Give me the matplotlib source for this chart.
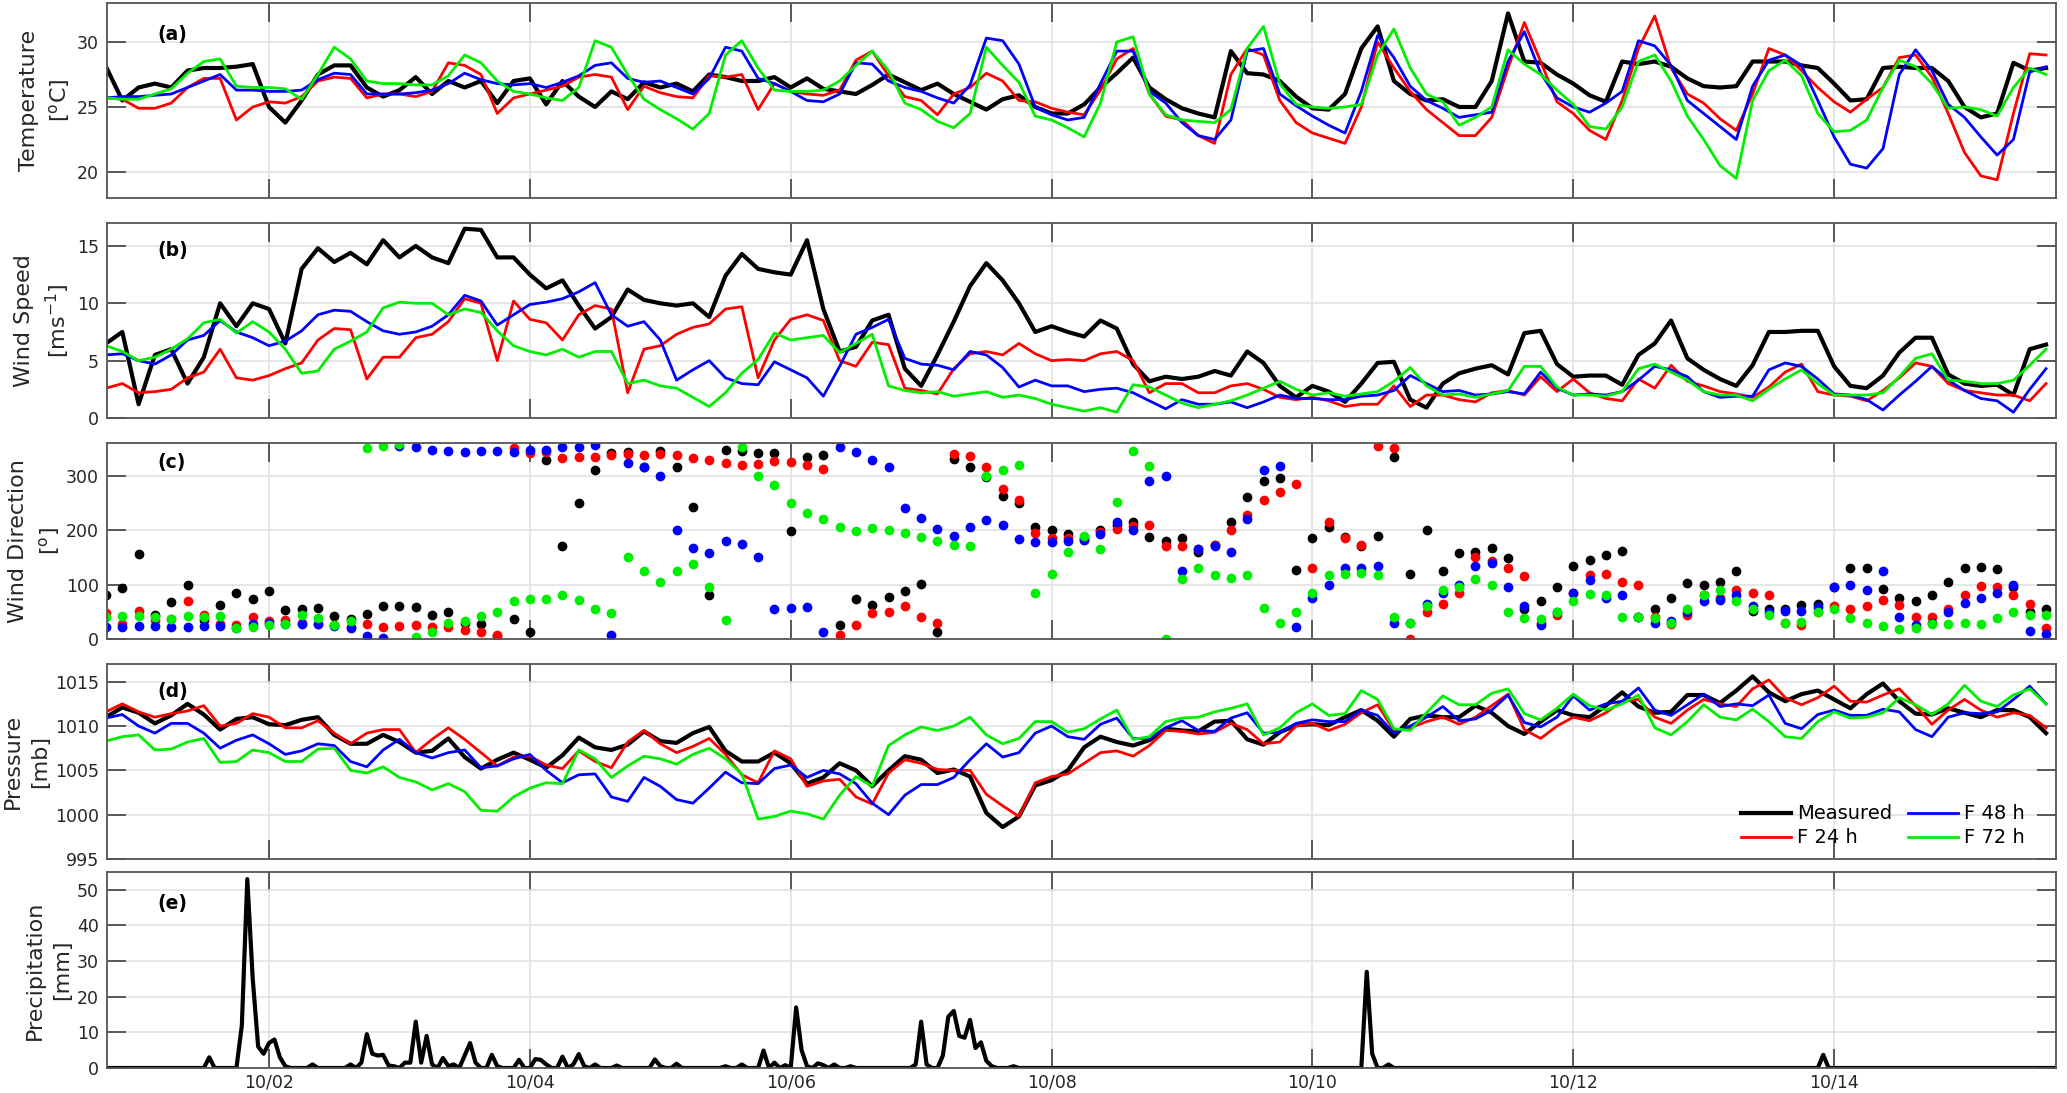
import numpy as np
import matplotlib
matplotlib.use('Agg')
import matplotlib.pyplot as plt
import matplotlib.dates as mdates

plt.rcParams['font.family'] = ['DejaVu Sans']
plt.rcParams['mathtext.default'] = 'regular'

# 3-hourly samples starting 09/30 18:00, hourly for precipitation
start = np.datetime64('2017-09-30T18:00')

temp_meas = [28.1, 25.5, 26.5, 26.8, 26.5, 27.8, 28.0, 28.0, 28.1, 28.3, 25.0, 23.8, 25.5, 27.5, 28.2, 28.2,
             26.5, 25.8, 26.3, 27.3, 26.0, 27.0, 26.5, 27.0, 25.3, 27.0, 27.2, 25.2, 27.0, 25.8, 25.0, 26.2,
             25.6, 26.9, 26.5, 26.8, 26.2, 27.5, 27.3, 27.0, 27.0, 27.3, 26.5, 27.2, 26.4, 26.2, 26.0, 26.7,
             27.5, 26.9, 26.3, 26.8, 26.0, 25.4, 24.8, 25.6, 25.9, 25.0,
             24.5, 24.5, 25.2, 26.5, 27.6, 28.8, 26.5, 25.6, 24.9, 24.5, 24.2, 29.3, 27.6, 27.5, 27.0, 25.8,
             24.9, 24.8, 26.0, 29.5, 31.2, 27.0, 26.0, 25.5, 25.6, 25.0, 25.0, 27.0, 32.2, 28.5, 28.4, 27.5,
             26.8, 25.9, 25.4, 28.5, 28.3, 28.5, 28.1, 27.2, 26.6, 26.5, 26.6, 28.5, 28.5, 28.5, 28.2, 28.0,
             26.8, 25.5, 25.6, 28.0, 28.1, 28.0, 28.0, 27.0, 25.0, 24.2, 24.5, 28.4, 27.8, 28.0]
temp_f24 = [25.7, 25.6, 24.9, 24.9, 25.3, 26.5, 27.2, 27.2, 24.0, 25.0, 25.4, 25.3, 25.8, 27.0, 27.3, 27.2,
            25.7, 26.0, 26.0, 25.8, 26.2, 28.4, 28.2, 27.5, 24.5, 25.7, 26.0, 26.3, 26.6, 27.3, 27.5, 27.3,
            24.8, 26.6, 26.1, 25.8, 25.7, 27.4, 27.3, 27.5, 24.8, 26.8, 26.2, 26.0, 25.9, 26.3, 28.6, 29.3,
            27.4, 25.8, 25.5, 24.4, 26.0, 26.5, 27.6, 27.0, 25.5, 25.4,
            24.9, 24.6, 24.4, 26.3, 28.7, 29.5, 26.0, 24.3, 24.0, 22.8, 22.2, 27.5, 29.5, 29.0, 25.5, 23.8,
            23.0, 22.6, 22.2, 25.0, 30.0, 28.0, 26.2, 24.8, 23.8, 22.8, 22.8, 24.2, 28.0, 31.5, 28.5, 25.4,
            24.5, 23.2, 22.5, 25.5, 29.5, 32.0, 28.0, 26.0, 25.3, 24.1, 23.2, 26.0, 29.5, 29.0, 27.8, 26.5,
            25.4, 24.6, 25.6, 26.5, 28.8, 29.0, 27.3, 24.5, 21.5, 19.7, 19.4, 24.5, 29.1, 29.0]
temp_f48 = [25.7, 25.8, 25.8, 25.9, 26.0, 26.5, 27.0, 27.5, 26.3, 26.3, 26.2, 26.2, 26.3, 27.1, 27.6, 27.5,
            26.0, 26.0, 26.0, 26.1, 26.3, 26.8, 27.6, 27.1, 26.8, 26.7, 26.8, 26.5, 26.9, 27.4, 28.2, 28.4,
            27.2, 26.9, 27.0, 26.5, 26.0, 27.2, 29.6, 29.3, 27.2, 26.8, 26.2, 25.5, 25.4, 26.0, 28.4, 28.3,
            27.0, 26.5, 26.2, 25.7, 25.3, 26.7, 30.3, 30.1, 28.3, 25.0,
            24.4, 24.0, 24.2, 26.8, 29.3, 29.3, 26.2, 25.3, 23.8, 22.8, 22.5, 24.0, 29.3, 29.5, 26.0, 25.1,
            24.3, 23.6, 23.0, 26.2, 30.5, 28.8, 26.6, 25.5, 24.9, 24.2, 24.4, 24.6, 28.5, 30.8, 27.6, 25.7,
            25.0, 24.6, 25.3, 26.2, 30.1, 29.7, 28.2, 25.5, 24.5, 23.5, 22.5, 26.6, 28.6, 29.0, 28.2, 25.5,
            22.7, 20.6, 20.3, 21.8, 27.5, 29.4, 27.8, 25.2, 24.2, 22.7, 21.3, 22.5, 27.7, 28.1]
temp_f72 = [25.7, 25.6, 25.6, 26.0, 26.4, 27.6, 28.5, 28.7, 26.6, 26.5, 26.5, 26.4, 25.6, 27.5, 29.6, 28.7,
            27.0, 26.8, 26.8, 26.7, 26.7, 27.4, 29.0, 28.4, 27.0, 26.2, 26.0, 25.7, 25.5, 26.5, 30.1, 29.6,
            27.5, 25.6, 24.8, 24.1, 23.3, 24.5, 29.0, 30.1, 28.0, 26.3, 26.2, 26.2, 26.3, 27.0, 28.2, 29.3,
            27.8, 25.3, 24.8, 23.9, 23.4, 24.5, 29.6, 28.2, 26.9, 24.3,
            24.0, 23.4, 22.7, 25.3, 30.0, 30.4, 26.0, 24.4, 24.0, 23.9, 23.8, 24.8, 29.5, 31.2, 26.8, 25.2,
            25.0, 24.9, 25.0, 25.2, 29.0, 31.0, 28.0, 26.0, 25.4, 23.6, 24.2, 25.0, 29.4, 28.3, 27.5, 26.3,
            25.2, 23.5, 23.3, 25.0, 28.5, 29.0, 27.0, 24.3, 22.5, 20.5, 19.5, 25.5, 27.8, 28.6, 27.4, 24.5,
            23.1, 23.2, 24.0, 26.5, 28.6, 28.1, 26.8, 24.9, 25.0, 24.8, 24.3, 26.5, 28.0, 27.5]

wspd_meas = [6.5, 7.5, 1.2, 5.5, 6.0, 3.0, 5.3, 10.0, 8.0, 10.0, 9.5, 6.5, 13.0, 14.8, 13.6, 14.4,
             13.4, 15.5, 14.0, 15.0, 14.0, 13.5, 16.5, 16.4, 14.0, 14.0, 12.5, 11.3, 12.0, 9.8, 7.8, 8.8,
             11.2, 10.3, 10.0, 9.8, 10.0, 8.8, 12.4, 14.3, 13.0, 12.7, 12.5, 15.5, 9.5, 5.8, 6.2, 8.5,
             9.0, 4.3, 2.8, 5.5, 8.4, 11.5, 13.5, 12.0, 10.0, 7.5,
             8.0, 7.5, 7.1, 8.5, 7.8, 4.7, 3.2, 3.6, 3.4, 3.6, 4.1, 3.7, 5.8, 4.8, 2.8, 1.8,
             2.8, 2.3, 1.4, 3.0, 4.8, 4.9, 1.6, 0.9, 3.0, 3.9, 4.3, 4.6, 3.8, 7.4, 7.6, 4.7,
             3.6, 3.7, 3.7, 2.9, 5.5, 6.5, 8.5, 5.2, 4.2, 3.4, 2.8, 4.6, 7.5, 7.5, 7.6, 7.6,
             4.5, 2.8, 2.6, 3.7, 5.7, 7.0, 7.0, 3.8, 3.0, 2.8, 2.9, 2.0, 6.0, 6.4]
wspd_f24 = [2.6, 3.0, 2.2, 2.3, 2.5, 3.5, 4.0, 6.0, 3.5, 3.3, 3.7, 4.3, 4.8, 6.8, 7.8, 7.7,
            3.4, 5.3, 5.3, 7.0, 7.3, 8.4, 10.4, 10.0, 5.0, 10.2, 8.6, 8.3, 6.8, 9.0, 9.8, 9.5,
            2.2, 6.0, 6.3, 7.3, 7.9, 8.2, 9.5, 9.7, 3.5, 6.8, 8.6, 9.0, 8.5, 5.0, 4.5, 6.6,
            6.4, 2.6, 2.4, 2.1, 4.3, 5.6, 5.8, 5.5, 6.5, 5.6,
            5.0, 5.1, 5.0, 5.6, 5.8, 5.0, 2.2, 3.0, 3.0, 2.2, 2.2, 2.8, 3.0, 2.5, 1.8, 1.6,
            1.8, 1.5, 1.0, 1.2, 1.2, 2.8, 1.0, 2.0, 2.0, 1.6, 1.4, 2.2, 2.4, 2.0, 3.6, 2.3,
            3.4, 2.2, 1.7, 1.5, 3.4, 2.6, 4.6, 3.2, 2.8, 2.3, 2.1, 1.8, 2.7, 4.0, 4.7, 2.3,
            2.0, 1.9, 1.5, 2.4, 3.5, 4.8, 4.5, 3.0, 2.4, 2.2, 2.0, 2.0, 1.5, 3.0]
wspd_f48 = [5.5, 5.6, 5.0, 4.7, 5.5, 6.8, 7.2, 8.5, 7.5, 7.0, 6.3, 6.7, 7.6, 9.0, 9.4, 9.3,
            8.4, 7.6, 7.3, 7.5, 8.0, 9.0, 10.7, 10.2, 8.1, 9.0, 9.9, 10.1, 10.4, 11.0, 11.8, 9.0,
            8.0, 8.4, 6.8, 3.3, 4.2, 5.0, 3.5, 3.0, 2.9, 4.9, 4.2, 3.5, 1.9, 4.5, 7.3, 7.9,
            8.6, 5.2, 4.7, 4.6, 4.2, 5.8, 5.5, 4.4, 2.7, 3.3,
            2.8, 2.8, 2.3, 2.5, 2.6, 2.2, 1.5, 0.8, 1.6, 1.2, 1.2, 1.4, 0.9, 1.4, 2.0, 1.7,
            1.7, 1.6, 1.6, 1.9, 2.0, 2.4, 3.7, 3.0, 2.3, 2.4, 2.0, 2.1, 2.3, 2.1, 4.0, 2.6,
            2.0, 2.1, 2.0, 2.3, 3.3, 4.5, 4.2, 3.6, 2.3, 1.8, 1.9, 1.9, 4.2, 4.8, 4.5, 3.4,
            2.1, 2.0, 1.6, 0.7, 2.0, 3.2, 4.5, 3.3, 2.4, 1.7, 1.5, 0.5, 2.5, 4.3]
wspd_f72 = [6.3, 5.8, 5.0, 5.3, 6.0, 6.9, 8.3, 8.6, 7.4, 8.4, 7.5, 6.0, 3.9, 4.1, 6.0, 6.7,
            7.5, 9.6, 10.1, 10.0, 10.0, 9.0, 9.5, 9.2, 7.6, 6.3, 5.8, 5.5, 6.0, 5.3, 5.8, 5.8,
            3.0, 3.3, 2.8, 2.6, 1.8, 1.0, 2.2, 3.9, 5.1, 7.4, 6.8, 7.0, 7.2, 5.7, 6.5, 7.3,
            2.8, 2.4, 2.2, 2.3, 1.9, 2.1, 2.3, 1.8, 2.0, 1.7,
            1.2, 0.9, 0.6, 0.9, 0.5, 2.9, 2.7, 2.0, 1.3, 0.9, 1.2, 1.5, 2.0, 2.6, 3.2, 2.5,
            2.0, 2.2, 1.9, 2.1, 2.3, 3.2, 4.4, 2.8, 2.0, 2.1, 1.8, 2.1, 2.4, 4.5, 4.5, 2.7,
            2.0, 2.0, 1.9, 2.3, 4.3, 4.7, 4.0, 3.3, 2.3, 2.0, 2.0, 1.5, 2.5, 3.4, 4.2, 3.0,
            2.0, 2.0, 2.0, 2.2, 3.6, 5.2, 5.6, 3.3, 3.2, 3.0, 3.0, 3.3, 4.6, 6.0]

wdir_meas = [80, 93, 157, 45, 68, 100, 35, 62, 85, 73, 88, 53, 55, 57, 42, 36,
             46, 60, 60, 58, 45, 49, 29, 28, 5, 37, 12, 328, 170, 250, 310, 342,
             343, 316, 346, 316, 243, 80, 348, 345, 342, 342, 198, 335, 338, 25, 73, 62,
             77, 88, 101, 12, 330, 315, 297, 262, 250, 205,
             200, 193, 186, 200, 210, 215, 187, 180, 185, 160, 172, 215, 260, 290, 295, 126,
             185, 205, 188, 170, 190, 335, 120, 200, 125, 158, 160, 168, 148, 55, 70, 95,
             135, 145, 155, 162, 40, 55, 75, 102, 100, 105, 125, 52, 55, 55, 62, 65,
             95, 130, 130, 92, 76, 69, 80, 105, 130, 133, 128, 95, 50, 55]
wdir_f24 = [48, 28, 52, 35, 36, 70, 45, 28, 25, 40, 33, 35, 30, 27, 25, 22,
            28, 22, 24, 25, 22, 22, 17, 12, 8, 350, 342, 343, 333, 334, 334, 338,
            340, 338, 340, 338, 333, 329, 324, 320, 322, 327, 325, 320, 313, 8, 25, 47,
            50, 60, 40, 30, 340, 337, 316, 275, 255, 195,
            185, 185, 181, 197, 202, 207, 210, 170, 170, 165, 172, 200, 228, 255, 270, 285,
            130, 215, 185, 172, 355, 350, 0, 50, 65, 85, 150, 143, 130, 115, 30, 45,
            85, 118, 120, 105, 100, 40, 28, 45, 80, 75, 90, 85, 80, 30, 25, 50,
            60, 56, 60, 72, 62, 40, 41, 55, 80, 97, 95, 80, 65, 20]
wdir_f48 = [22, 22, 23, 23, 22, 22, 23, 24, 20, 28, 30, 28, 28, 27, 23, 21,
            5, 2, 354, 352, 347, 345, 344, 345, 345, 343, 348, 348, 352, 352, 357, 8,
            323, 315, 300, 200, 168, 158, 180, 175, 150, 56, 57, 58, 12, 352, 343, 328,
            316, 240, 222, 202, 190, 205, 218, 210, 183, 178,
            178, 180, 182, 192, 215, 200, 290, 300, 125, 165, 170, 160, 220, 310, 318, 22,
            75, 100, 130, 130, 135, 30, 30, 65, 85, 100, 135, 140, 95, 60, 25, 50,
            85, 108, 75, 80, 40, 30, 33, 50, 70, 72, 80, 60, 50, 52, 52, 58,
            95, 100, 90, 125, 40, 25, 30, 50, 67, 75, 85, 100, 15, 10]
wdir_f72 = [40, 42, 42, 41, 36, 42, 40, 42, 21, 22, 25, 27, 44, 38, 26, 33,
            351, 355, 358, 3, 12, 30, 33, 42, 50, 70, 74, 74, 80, 72, 55, 48,
            150, 125, 105, 125, 137, 95, 35, 352, 300, 282, 250, 232, 220, 206, 198, 203,
            200, 195, 188, 180, 172, 170, 300, 310, 320, 85,
            120, 160, 190, 165, 251, 345, 318, 0, 110, 130, 117, 112, 118, 57, 30, 50,
            85, 118, 120, 122, 118, 40, 30, 60, 90, 95, 110, 100, 50, 38, 36, 50,
            70, 83, 80, 40, 40, 38, 30, 55, 80, 90, 70, 55, 45, 30, 32, 50,
            55, 38, 30, 23, 18, 20, 27, 28, 30, 28, 38, 50, 45, 45]

pres_meas = [1011.0, 1012.1, 1011.5, 1010.3, 1011.2, 1012.5, 1011.3, 1009.6, 1010.8, 1011.0, 1010.2, 1010.1,
             1010.7, 1011.0, 1009.0, 1008.0, 1008.0, 1009.0, 1008.2, 1007.0, 1007.2, 1008.6, 1006.5, 1005.2,
             1006.2, 1007.0, 1006.2, 1005.3, 1006.7, 1008.7, 1007.6, 1007.3, 1007.9, 1009.4, 1008.3, 1008.1,
             1009.2, 1009.9, 1007.2, 1006.0, 1006.0, 1007.0, 1005.8, 1003.5, 1004.2, 1005.8, 1005.0, 1003.2,
             1005.0, 1006.6, 1006.2, 1004.7, 1005.1, 1004.3, 1000.2, 998.6, 999.8, 1003.3,
             1003.9, 1005.0, 1007.6, 1008.8, 1008.2, 1007.8, 1008.4, 1009.7, 1009.5, 1009.4, 1010.5, 1010.6,
             1008.5, 1007.9, 1009.3, 1010.1, 1010.2, 1010.1, 1011.0, 1011.8, 1010.6, 1008.8, 1010.8, 1011.2,
             1011.0, 1011.0, 1012.3, 1011.5, 1010.0, 1009.1, 1010.5, 1011.8, 1011.2, 1011.0, 1012.3, 1013.8,
             1012.2, 1011.5, 1011.6, 1013.5, 1013.5, 1012.6, 1014.0, 1015.6, 1013.8, 1012.8, 1013.6, 1014.0,
             1013.0, 1012.0, 1013.6, 1014.8, 1012.8, 1011.4, 1011.3, 1012.0, 1011.5, 1011.0, 1011.8, 1011.8,
             1011.0, 1009.2]
pres_f24 = [1011.6, 1012.5, 1011.6, 1011.0, 1011.4, 1011.7, 1012.3, 1010.0, 1010.3, 1011.4, 1011.0, 1009.8,
            1009.8, 1010.6, 1009.2, 1008.0, 1009.2, 1009.6, 1009.6, 1007.0, 1008.5, 1009.8, 1008.5, 1007.0,
            1005.5, 1006.5, 1006.6, 1005.6, 1005.2, 1007.2, 1006.0, 1005.3, 1008.2, 1009.5, 1008.0, 1007.0,
            1007.7, 1008.6, 1006.8, 1004.5, 1003.6, 1007.2, 1006.3, 1003.2, 1003.8, 1004.0, 1002.0, 1001.2,
            1004.7, 1006.2, 1005.8, 1005.1, 1005.0, 1005.0, 1002.3, 1001.0, 999.8, 1003.6,
            1004.3, 1004.6, 1005.8, 1007.0, 1007.2, 1006.6, 1007.8, 1009.5, 1009.4, 1009.1, 1009.3, 1010.3,
            1009.6, 1008.0, 1008.2, 1010.0, 1010.3, 1009.5, 1010.2, 1011.5, 1012.4, 1009.5, 1009.8, 1010.5,
            1011.0, 1010.2, 1011.0, 1012.3, 1013.6, 1009.6, 1008.6, 1010.0, 1011.0, 1010.6, 1011.5, 1012.8,
            1013.0, 1011.0, 1010.3, 1011.8, 1013.0, 1012.5, 1012.2, 1014.2, 1015.2, 1013.2, 1012.4, 1013.2,
            1014.5, 1012.8, 1012.7, 1013.5, 1014.2, 1012.3, 1010.2, 1011.8, 1013.0, 1011.8, 1011.0, 1011.5,
            1011.2, 1009.8]
pres_f48 = [1010.9, 1011.3, 1010.0, 1009.2, 1010.3, 1010.3, 1009.2, 1007.5, 1008.4, 1009.0, 1008.0, 1006.8,
            1007.2, 1008.0, 1007.8, 1006.0, 1005.4, 1007.3, 1008.5, 1007.0, 1006.4, 1007.0, 1007.3, 1005.3,
            1005.5, 1006.3, 1006.8, 1005.0, 1003.6, 1004.5, 1004.6, 1002.0, 1001.5, 1004.2, 1003.2, 1001.7,
            1001.3, 1003.0, 1004.8, 1003.6, 1003.5, 1005.2, 1005.6, 1004.2, 1005.0, 1004.6, 1003.5, 1001.3,
            1000.0, 1002.2, 1003.4, 1003.4, 1004.2, 1006.2, 1008.0, 1006.5, 1007.0, 1009.2,
            1010.0, 1008.8, 1008.5, 1010.2, 1010.9, 1008.6, 1008.6, 1009.8, 1010.6, 1009.5, 1009.4, 1010.9,
            1011.5, 1009.2, 1009.3, 1010.3, 1010.7, 1010.5, 1010.5, 1011.8, 1011.2, 1009.2, 1010.0, 1011.0,
            1012.2, 1010.6, 1010.8, 1011.8, 1013.5, 1010.4, 1009.9, 1011.0, 1013.4, 1011.8, 1012.5, 1012.8,
            1014.3, 1011.8, 1011.2, 1012.4, 1013.6, 1012.2, 1012.5, 1012.3, 1013.5, 1010.3, 1009.7, 1011.3,
            1011.8, 1011.2, 1011.2, 1011.9, 1011.6, 1009.6, 1008.8, 1011.0, 1011.5, 1011.4, 1011.6, 1013.0,
            1014.5, 1012.5]
pres_f72 = [1008.3, 1008.8, 1009.0, 1007.3, 1007.4, 1008.2, 1008.6, 1005.9, 1006.0, 1007.3, 1007.0, 1006.0,
            1006.0, 1007.4, 1007.5, 1005.0, 1004.7, 1005.4, 1004.2, 1003.7, 1002.8, 1003.5, 1002.6, 1000.5,
            1000.4, 1002.0, 1003.0, 1003.6, 1003.5, 1007.3, 1006.3, 1004.2, 1005.5, 1006.6, 1006.3, 1005.7,
            1006.8, 1007.5, 1006.3, 1004.6, 999.5, 999.8, 1000.4, 1000.1, 999.5, 1002.2, 1004.3, 1003.2,
            1007.8, 1009.0, 1009.9, 1009.5, 1010.0, 1011.0, 1009.0, 1008.0, 1008.6, 1010.5,
            1010.5, 1009.3, 1009.7, 1010.8, 1011.8, 1008.5, 1008.8, 1010.5, 1010.9, 1011.0, 1011.6, 1012.0,
            1012.5, 1009.0, 1009.8, 1011.5, 1012.5, 1011.2, 1011.4, 1014.0, 1013.0, 1009.7, 1009.5, 1011.5,
            1013.4, 1012.4, 1012.4, 1013.7, 1014.2, 1011.4, 1010.7, 1012.0, 1013.6, 1012.3, 1011.8, 1012.5,
            1013.5, 1009.8, 1009.0, 1010.5, 1012.4, 1011.0, 1010.7, 1011.9, 1010.5, 1008.8, 1008.6, 1010.5,
            1011.6, 1010.9, 1011.0, 1011.5, 1013.2, 1012.4, 1011.3, 1012.5, 1014.6, 1012.8, 1012.2, 1013.5,
            1014.2, 1012.5]

# measured precipitation, hours after start -> mm (all other hours are 0)
rain_hour = [19, 25, 26, 27, 28, 29, 30, 31, 32, 33, 38, 45, 47, 48, 49, 50, 51, 52, 53, 55, 56, 57, 58,
             59, 60, 62, 63, 64, 66, 67, 68, 71, 72, 76, 79, 80, 81, 84, 86, 87, 88, 90, 94, 101, 102,
             105, 114, 117, 121, 123, 125, 127, 128, 129, 131, 132, 134, 137, 149, 150, 151, 154, 155,
             156, 157, 158, 159, 160, 161, 162, 163, 167, 232, 233, 236, 316]
rain_mm = [3.0, 12.0, 53.0, 25.0, 6.0, 4.0, 7.0, 8.0, 3.0, 0.5, 1.0, 1.0, 1.5, 9.5, 4.0, 3.5, 3.7, 0.7,
           0.5, 1.5, 1.5, 13.0, 1.5, 9.0, 1.0, 2.8, 0.5, 1.0, 3.5, 7.0, 1.5, 3.7, 0.5, 2.3, 2.5, 2.3,
           1.0, 3.2, 1.0, 3.9, 0.5, 1.0, 0.7, 2.4, 0.5, 1.2, 0.5, 1.0, 4.9, 1.5, 0.8, 17.0, 5.0, 0.5,
           1.3, 0.8, 1.0, 0.5, 1.0, 13.0, 1.0, 3.5, 14.4, 16.0, 9.0, 8.5, 13.5, 5.6, 7.2, 2.0, 0.5,
           0.5, 27.0, 4.0, 1.0, 3.7]
n_hours = 360

series_names = ['Measured', 'F 24 h', 'F 48 h', 'F 72 h']
colors = ['k', '#ff0000', '#0000ff', '#00ee00']


def times3(vals):
    return start + np.arange(len(vals)) * np.timedelta64(3, 'h')


rain = np.zeros(n_hours)
rain[rain_hour] = rain_mm
t_rain = start + np.arange(n_hours) * np.timedelta64(1, 'h')

fig = plt.figure(figsize=(20.67, 10.93), dpi=100)
W, H = 2067, 1093
boxes = [(3, 198), (223, 418), (443, 639), (664, 859), (872, 1068)]
axs = [fig.add_axes([107 / W, 1 - b / H, 1949 / W, (b - t) / H]) for t, b in boxes]

x0 = np.datetime64('2017-09-30T18:11')
x1 = np.datetime64('2017-10-15T16:50')

# (a) temperature
for vals, c, lw in zip([temp_meas, temp_f24, temp_f48, temp_f72], colors, [3.0, 2, 2, 2]):
    axs[0].plot(times3(vals), vals, color=c, lw=lw)
# (b) wind speed
for vals, c, lw in zip([wspd_meas, wspd_f24, wspd_f48, wspd_f72], colors, [3.0, 2, 2, 2]):
    axs[1].plot(times3(vals), vals, color=c, lw=lw)
# (c) wind direction
for vals, c in zip([wdir_meas, wdir_f24, wdir_f48, wdir_f72], colors):
    axs[2].plot(times3(vals), vals, 'o', ms=6, color=c, mec=c, ls='none')
# (d) pressure
for vals, c, lw, name in zip([pres_meas, pres_f24, pres_f48, pres_f72], colors, [3.0, 2, 2, 2], series_names):
    axs[3].plot(times3(vals), vals, color=c, lw=lw, label=name)
# (e) precipitation
axs[4].plot(t_rain, rain, color='k', lw=3.0)

settings = [
    ((18, 33), [20, 25, 30], 'Temperature\n[$^o$C]', '(a)', 0.84),
    ((0, 17), [0, 5, 10, 15], 'Wind Speed\n[ms$^{-1}$]', '(b)', 0.86),
    ((0, 360), [0, 100, 200, 300], 'Wind Direction\n[$^o$]', '(c)', 0.90),
    ((995, 1017), [995, 1000, 1005, 1010, 1015], 'Pressure\n[mb]', '(d)', 0.86),
    ((0, 55), [0, 10, 20, 30, 40, 50], 'Precipitation\n[mm]', '(e)', 0.84),
]

for i, (ax, (ylim, yt, ylab, tag, ty)) in enumerate(zip(axs, settings)):
    ax.set_xlim(x0, x1)
    ax.set_ylim(*ylim)
    ax.set_yticks(yt)
    ax.xaxis.set_major_locator(mdates.DayLocator(bymonthday=[2, 4, 6, 8, 10, 12, 14]))
    ax.xaxis.set_major_formatter(mdates.DateFormatter('%m/%d'))
    ax.grid(True, color='#e2e2e2', lw=1.2)
    ax.set_axisbelow(True)
    ax.tick_params(direction='in', length=14, width=1.1, top=True, right=True,
                   labelsize=12.5, color='#333333', labelcolor='#262626')
    ax.tick_params(axis='x', pad=4)
    ax.tick_params(axis='y', pad=6)
    if i < 4:
        ax.tick_params(labelbottom=False)
    for s in ax.spines.values():
        s.set_color('#555555')
        s.set_linewidth(1.3)
    ax.set_ylabel(ylab, fontsize=16, linespacing=1.45, labelpad=3, color='#262626')
    ax.text(0.026, ty, tag, transform=ax.transAxes, fontsize=13.5, fontweight='bold', va='center')

axs[3].legend(loc='lower right', bbox_to_anchor=(0.988, 0.02), borderaxespad=0, ncol=2, frameon=False,
              fontsize=14, handlelength=2.6, handletextpad=0.3, columnspacing=0.8, labelspacing=0.25)

fig.savefig('out.png', dpi=100)
